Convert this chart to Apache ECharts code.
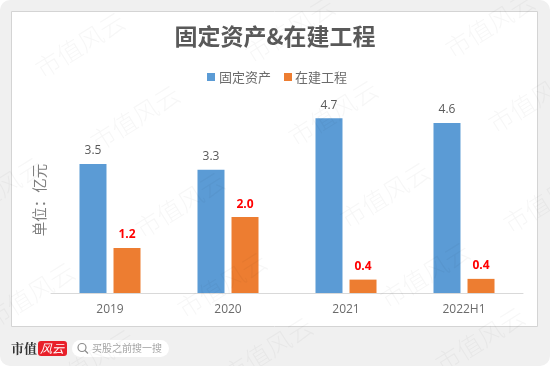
<!DOCTYPE html>
<html>
<head>
<meta charset="utf-8">
<style>
html, body { margin: 0; padding: 0; background: #fff; }
#main { width: 550px; height: 366px; }
</style>
<script src="https://cdn.jsdelivr.net/npm/echarts@6/dist/echarts.min.js"></script>
</head>
<body>
<div id="main"></div>
<script>
var categories = ['2019', '2020', '2021', '2022H1'];
var fixedAssets = [3.47, 3.31, 4.7, 4.57];
var construction = [1.21, 2.04, 0.36, 0.38];
var cjk = '"Noto Sans CJK SC", sans-serif';
var latin = '"Open Sans", "Noto Sans", sans-serif';

// 水印位置
var marks = [[80, 45], [290, 30], [490, 25], [135, 118], [333, 113], [533, 100],
	[-2, 190], [180, 205], [385, 195], [548, 200], [30, 295], [222, 285], [425, 275],
	[90, 362], [268, 350], [480, 340]];

var graphics = [
	{ type: 'rect', z: -10, shape: { x: 0, y: 0, width: 550, height: 366, r: 10 }, style: { fill: '#f0f0f0' } },
	{ type: 'rect', z: -9, shape: { x: 11.5, y: 11.5, width: 526, height: 315 }, style: { fill: '#fff', stroke: '#d4d4d4', lineWidth: 1 } },
	{ type: 'rect', shape: { x: 207, y: 73, width: 8, height: 8 }, style: { fill: '#5b9bd5' } },
	{ type: 'text', x: 219, y: 77, style: { text: '固定资产', font: '13px ' + cjk, fill: '#6b6b6b', verticalAlign: 'middle' } },
	{ type: 'rect', shape: { x: 284, y: 73, width: 8, height: 8 }, style: { fill: '#ed7d31' } },
	{ type: 'text', x: 295, y: 77, style: { text: '在建工程', font: '13px ' + cjk, fill: '#6b6b6b', verticalAlign: 'middle' } },
	// 底部logo
	{ type: 'text', x: 11, y: 348, style: { text: '市值', font: 'bold 13px "Noto Serif CJK SC", ' + cjk, fill: '#333', verticalAlign: 'middle' } },
	{ type: 'rect', shape: { x: 38, y: 341, width: 29, height: 15, r: 3 }, style: { fill: '#e8202a' } },
	{ type: 'text', x: 40, y: 348.5, style: { text: '风云', font: 'italic 12px ' + cjk, fill: '#fff', verticalAlign: 'middle' } },
	{ type: 'rect', shape: { x: 72, y: 340, width: 97, height: 17, r: 8.5 }, style: { fill: '#fff' } },
	{ type: 'circle', shape: { cx: 82, cy: 347.5, r: 4 }, style: { fill: 'none', stroke: '#8c8c8c', lineWidth: 1.2 } },
	{ type: 'line', shape: { x1: 85, y1: 350.5, x2: 88, y2: 353.5 }, style: { stroke: '#8c8c8c', lineWidth: 1.2 } },
	{ type: 'text', x: 92, y: 348.5, style: { text: '买股之前搜一搜', font: '10px ' + cjk, fill: '#a6a6a6', verticalAlign: 'middle' } }
];
marks.forEach(function (p) {
	graphics.push({
		type: 'text', x: p[0], y: p[1], rotation: 32 * Math.PI / 180, z: 100, silent: true,
		style: { text: '市值风云', font: '300 25px ' + cjk, fill: 'rgba(0,0,0,0.035)', align: 'center', verticalAlign: 'middle' }
	});
});

var myChart = echarts.init(document.getElementById('main'), null, { renderer: 'canvas' });
myChart.setOption({
	animation: false,
	backgroundColor: 'transparent',
	title: {
		text: '固定资产&在建工程', left: 'center', top: 25, padding: 0,
		textStyle: { fontFamily: cjk, fontSize: 23, fontWeight: 'bold', color: '#595959' }
	},
	grid: { left: 51, right: 27, top: 107, bottom: 73 },
	xAxis: {
		type: 'category', data: categories,
		axisLine: { lineStyle: { color: '#d9d9d9' } },
		axisTick: { show: false },
		axisLabel: { fontFamily: latin, fontSize: 12, color: '#6b6b6b', margin: 11 }
	},
	yAxis: {
		type: 'value', min: 0, max: 5, show: true,
		axisLine: { show: false }, axisTick: { show: false }, axisLabel: { show: false },
		splitLine: { show: false },
		name: '单位：亿元', nameLocation: 'middle', nameRotate: 90, nameGap: 4,
		nameTextStyle: { fontFamily: cjk, fontSize: 14.5, color: '#808080' }
	},
	series: [{
		name: '固定资产', type: 'bar', data: fixedAssets, barWidth: 27, barGap: '26%',
		itemStyle: { color: '#5b9bd5' },
		label: {
			show: true, position: 'top', distance: 7, fontFamily: latin, fontSize: 12, color: '#595959',
			formatter: function (p) { return p.value.toFixed(1); }
		}
	}, {
		name: '在建工程', type: 'bar', data: construction, barWidth: 27,
		itemStyle: { color: '#ed7d31' },
		label: {
			show: true, position: 'top', distance: 7, fontFamily: latin, fontSize: 12, fontWeight: 'bold', color: '#ff0000',
			formatter: function (p) { return p.value.toFixed(1); }
		}
	}],
	graphic: { elements: graphics }
});
</script>
</body>
</html>
